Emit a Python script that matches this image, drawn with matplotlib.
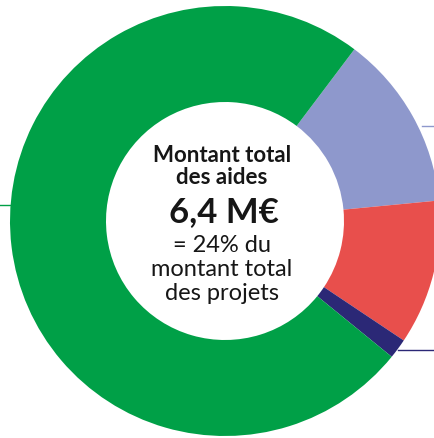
"""
Donut chart: montant total des aides (6,4 M€) split by category.
"""

import matplotlib

matplotlib.use("Agg")
import matplotlib.pyplot as plt

# shares of the total aid (%), clockwise from the top-right
labels = ["Catégorie B", "Catégorie C", "Catégorie D", "Catégorie A"]
shares = [13.2, 10.9, 1.5, 74.4]
colors = ["#8E98CC", "#E84F4C", "#2B2876", "#00A047"]

center_title = ["Montant total", "des aides"]
center_value = "6,4 M€"
center_note = ["= 24% du", "montant total", "des projets"]

W, H = 435, 439
fig = plt.figure(figsize=(W / 100, H / 100), dpi=100)
ax = fig.add_axes([0, 0, 1, 1])

cx, cy, r_out, r_in = 225, 217, 215, 119
ax.pie(
    shares,
    colors=colors,
    startangle=53,
    counterclock=False,
    center=(cx, cy),
    radius=r_out,
    wedgeprops=dict(width=r_out - r_in, linewidth=0),
    frame=True,
)
ax.set_xlim(0, W)
ax.set_ylim(0, H)
ax.set_aspect("equal")
ax.axis("off")

# leader lines toward labels outside the crop
ax.plot([0, 10], [H - 206, H - 206], color=colors[3], lw=1)
ax.plot([422, W], [H - 127, H - 127], color=colors[0], lw=1)
ax.plot([398, W], [H - 351, H - 351], color=colors[2], lw=1)

txt = "#161616"
font = "Lato"
ax.text(cx - 3, H - 155, center_title[0], ha="center", va="center",
        fontsize=16, fontweight="bold", color=txt, family=font)
ax.text(cx - 3, H - 177, center_title[1], ha="center", va="center",
        fontsize=16, fontweight="bold", color=txt, family=font)
ax.text(cx - 1, H - 212, center_value, ha="center", va="center",
        fontsize=25, fontweight="bold", color=txt, family=font)
for i, line in enumerate(center_note):
    ax.text(cx - 3, H - 245 - 24 * i, line, ha="center", va="center",
            fontsize=17, fontweight="normal", color=txt, family=font)

fig.savefig("out.png", dpi=100)
